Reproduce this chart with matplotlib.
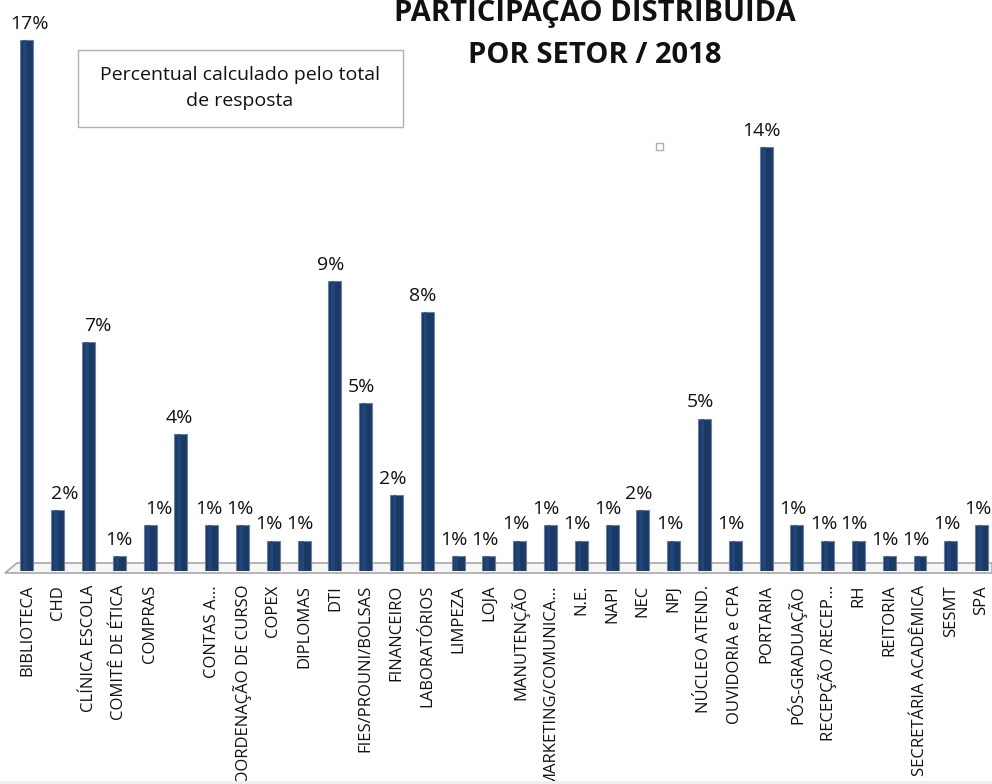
import matplotlib
matplotlib.use("Agg")
import matplotlib.pyplot as plt
from matplotlib.patches import Rectangle, Polygon
import numpy as np

plt.rcParams['font.family'] = ['Open Sans', 'DejaVu Sans']

categories = ["BIBLIOTECA", "CHD", "CLÍNICA ESCOLA", "COMITÊ DE ÉTICA", "COMPRAS", "",
              "CONTAS A...", "COORDENAÇÃO DE CURSO", "COPEX", "DIPLOMAS", "DTI",
              "FIES/PROUNI/BOLSAS", "FINANCEIRO", "LABORATÓRIOS", "LIMPEZA", "LOJA",
              "MANUTENÇÃO", "MARKETING/COMUNICA...", "N.E.", "NAPI", "NEC", "NPJ",
              "NÚCLEO ATEND.", "OUVIDORIA e CPA", "PORTARIA", "PÓS-GRADUAÇÃO",
              "RECEPÇÃO /RECEP...", "RH", "REITORIA", "SECRETÁRIA ACADÊMICA", "SESMT", "SPA"]
values = [17.4, 2.0, 7.5, 0.5, 1.5, 4.5, 1.5, 1.5, 1.0, 1.0, 9.5, 5.5, 2.5, 8.5,
          0.5, 0.5, 1.0, 1.5, 1.0, 1.5, 2.0, 1.0, 5.0, 1.0, 13.9, 1.5, 1.0, 1.0,
          0.5, 0.5, 1.0, 1.5]
labels = ["17%", "2%", "7%", "1%", "1%", "4%", "1%", "1%", "1%", "1%", "9%", "5%",
          "2%", "8%", "1%", "1%", "1%", "1%", "1%", "1%", "2%", "1%", "5%", "1%",
          "14%", "1%", "1%", "1%", "1%", "1%", "1%", "1%"]

# horizontal nudges (in points) of the value labels, as placed in the original
label_nudge = [1.5, 5, 6.5, 0, 6.5, -1.5, -2, -2] + [-3] * 24

W, H = 992, 784
fig = plt.figure(figsize=(W / 100, H / 100), dpi=100)
fig.patch.set_facecolor("white")

base_px = 571
ax = fig.add_axes([5.4 / W, 1 - base_px / H, (997 - 5.4) / W, base_px / H])
ax.set_xlim(-0.7, 31.5)
ax.set_ylim(0, base_px / 30.5)
ax.axis("off")

# 3D-like floor
fl = Polygon([[5 / W, 1 - 573 / H], [17 / W, 1 - 563 / H], [1.0, 1 - 563 / H], [1.0, 1 - 573 / H]],
             closed=True, transform=fig.transFigure, facecolor="#f6f6f6",
             edgecolor="#a8a8a8", linewidth=1.2, zorder=0)
fig.add_artist(fl)

# light strip at the bottom edge
fig.add_artist(Rectangle((0, 0), 1, 3 / H, transform=fig.transFigure,
                         facecolor="#f0f0f0", edgecolor="none"))

x = np.arange(len(categories))
ax.bar(x, values, width=0.42, color="#1a3a66", edgecolor="#6f809c",
       linewidth=0.8, zorder=3)
# highlight stripe for cylinder effect
ax.bar(x - 0.06, values, width=0.12, color="#244b80", linewidth=0, zorder=4, alpha=0.7)

for xi, v, lab, dx in zip(x, values, labels, label_nudge):
    ax.annotate(lab, (xi, v), xytext=(dx, 8), textcoords="offset points",
                ha="center", va="baseline", fontsize=14, color="#111111",
                annotation_clip=False)

for xi, c in zip(x, categories):
    ax.annotate(c, (xi, 0), xycoords=("data", "axes fraction"),
                xytext=(0, -10), textcoords="offset points",
                rotation=90, ha="center", va="top", fontsize=12,
                color="#111111", annotation_clip=False)

# title
fig.text(595 / W, 1 - 21 / H, "PARTICIPAÇAO DISTRIBUIDA",
         ha="center", va="baseline", fontsize=21, fontweight="bold", color="#111111")
fig.text(595 / W, 1 - 63 / H, "POR SETOR / 2018",
         ha="center", va="baseline", fontsize=21, fontweight="bold", color="#111111")

# note box
box = Rectangle((78 / W, 1 - 127 / H), (403 - 78) / W, (127 - 50) / H,
                transform=fig.transFigure, facecolor="white", edgecolor="#b0b0b0",
                linewidth=1.0, zorder=5)
fig.add_artist(box)
fig.text(240 / W, 1 - 80 / H, "Percentual calculado pelo total",
         ha="center", va="baseline", fontsize=14, color="#111111", zorder=6)
fig.text(240 / W, 1 - 106 / H, "de resposta",
         ha="center", va="baseline", fontsize=14, color="#111111", zorder=6)

# small square marker artifact
sq = Rectangle((656 / W, 1 - 150 / H), 7 / W, 7 / H, transform=fig.transFigure,
               facecolor="white", edgecolor="#b0b0b0", linewidth=1.0)
fig.add_artist(sq)

fig.savefig("out.png", dpi=100, facecolor="white")
